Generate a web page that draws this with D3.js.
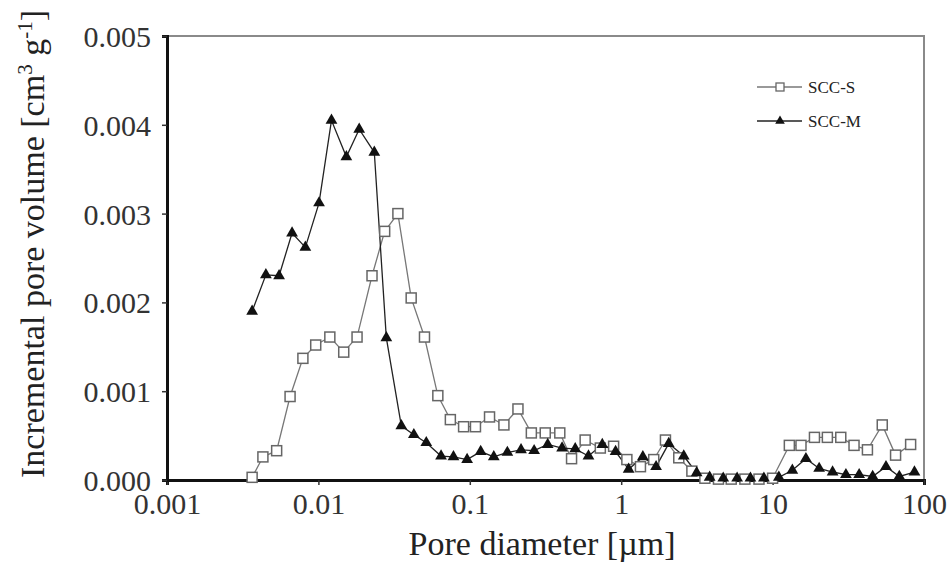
<!DOCTYPE html>
<html>
<head>
<meta charset="utf-8">
<script src="https://cdn.jsdelivr.net/npm/d3@7"></script>
<style>
  body { margin: 0; background: #fff; }
  svg text { font-family: "Liberation Serif", "Times New Roman", serif; fill: #222; }
</style>
</head>
<body>
<div id="chart"></div>
<script>
// Pore diameters (µm) and incremental pore volumes (10^-3 cm3/g)
const sccSDiameter = [0.00365, 0.0043, 0.0053, 0.0065, 0.0079, 0.0096, 0.0119, 0.0147, 0.0180, 0.0226,
  0.0274, 0.0335, 0.0410, 0.0502, 0.0615, 0.0744, 0.091, 0.109, 0.135, 0.168,
  0.208, 0.255, 0.315, 0.393, 0.470, 0.578, 0.728, 0.891, 1.09, 1.34,
  1.64, 1.96, 2.40, 2.93, 3.57, 4.39, 5.33, 6.56, 8.13, 10.0,
  12.9, 15.4, 18.9, 23.0, 28.2, 34.5, 42.3, 53.0, 64.9, 81.6];
const sccSVolume = [0.03, 0.26, 0.33, 0.94, 1.37, 1.52, 1.61, 1.44, 1.61, 2.30,
  2.80, 3.00, 2.05, 1.61, 0.95, 0.68, 0.60, 0.60, 0.71, 0.62,
  0.80, 0.53, 0.53, 0.53, 0.24, 0.45, 0.36, 0.38, 0.23, 0.15,
  0.23, 0.45, 0.25, 0.10, 0.02, 0.01, 0.01, 0.01, 0.01, 0.02,
  0.39, 0.39, 0.48, 0.48, 0.48, 0.39, 0.34, 0.62, 0.28, 0.40];

const sccMDiameter = [0.00365, 0.0045, 0.0055, 0.0067, 0.0082, 0.0101, 0.0122, 0.0153, 0.0186, 0.0234,
  0.0281, 0.0353, 0.0427, 0.0516, 0.0646, 0.078, 0.096, 0.118, 0.144, 0.177,
  0.218, 0.266, 0.327, 0.407, 0.497, 0.608, 0.750, 0.918, 1.12, 1.39,
  1.70, 2.06, 2.59, 3.15, 3.84, 4.72, 5.83, 7.14, 8.76, 11.0,
  13.5, 16.6, 20.3, 24.9, 30.5, 37.3, 45.8, 56.1, 68.7, 86.5];
const sccMVolume = [1.90, 2.31, 2.30, 2.78, 2.62, 3.12, 4.05, 3.64, 3.95, 3.69,
  1.60, 0.61, 0.51, 0.42, 0.27, 0.26, 0.23, 0.32, 0.26, 0.31,
  0.34, 0.33, 0.40, 0.36, 0.35, 0.27, 0.40, 0.32, 0.12, 0.26,
  0.15, 0.41, 0.27, 0.08, 0.03, 0.02, 0.02, 0.02, 0.02, 0.03,
  0.11, 0.24, 0.13, 0.09, 0.06, 0.06, 0.04, 0.15, 0.04, 0.09];

const xTicks = [0.001, 0.01, 0.1, 1, 10, 100];
const xTickLabels = ["0.001", "0.01", "0.1", "1", "10", "100"];
const yTicks = [0, 0.001, 0.002, 0.003, 0.004, 0.005];

const W = 952, H = 567;
const margin = {top: 36, right: 28, bottom: 87, left: 167};
const width = W - margin.left - margin.right,
      height = H - margin.top - margin.bottom;

const svg = d3.select("#chart").append("svg")
  .attr("width", W).attr("height", H);

const g = svg.append("g").attr("transform", `translate(${margin.left},${margin.top})`);

const x = d3.scaleLog().domain([0.001, 100]).range([0, width]);
const y = d3.scaleLinear().domain([0, 0.005]).range([height, 0]);

// frame (top and right thin gray)
g.append("path")
  .attr("d", `M0,0H${width}V${height}`)
  .attr("fill", "none").attr("stroke", "#8a8a8a").attr("stroke-width", 2);

// axes
const xAxis = g.append("g")
  .attr("transform", `translate(0,${height})`)
  .call(d3.axisBottom(x).tickValues(xTicks).tickFormat((d, i) => xTickLabels[i]).tickSize(5).tickPadding(8));
const yAxis = g.append("g")
  .call(d3.axisLeft(y).tickValues(yTicks).tickFormat(d3.format(".3f")).tickSize(5).tickPadding(11));

[xAxis, yAxis].forEach(a => {
  a.attr("font-family", null).attr("font-size", null);
  a.select(".domain").attr("stroke", "#111").attr("stroke-width", 3);
  a.selectAll(".tick line").attr("stroke", "#333").attr("stroke-width", 1.5);
  a.selectAll("text")
    .style("font-family", "'Liberation Serif', serif")
    .style("font-size", "30px")
    .style("fill", "#333");
});
yAxis.selectAll("text").attr("dy", "0.35em");

// series
const sData = sccSDiameter.map((d, i) => ({d, v: sccSVolume[i] / 1000}));
const mData = sccMDiameter.map((d, i) => ({d, v: sccMVolume[i] / 1000}));

const line = d3.line().x(p => x(p.d)).y(p => y(p.v));

g.append("path").datum(sData)
  .attr("d", line).attr("fill", "none").attr("stroke", "#777").attr("stroke-width", 1.3);
g.append("path").datum(mData)
  .attr("d", line).attr("fill", "none").attr("stroke", "#222").attr("stroke-width", 1.3);

const tri = d3.symbol().type(d3.symbolTriangle).size(60);

g.selectAll(".sq").data(sData).join("rect")
  .attr("x", p => x(p.d) - 5).attr("y", p => y(p.v) - 5)
  .attr("width", 10).attr("height", 10)
  .attr("fill", "#fff").attr("stroke", "#666").attr("stroke-width", 1.5);

g.selectAll(".tri").data(mData).join("path")
  .attr("transform", p => `translate(${x(p.d)},${y(p.v)})`)
  .attr("d", tri).attr("fill", "#111");

// legend
const legend = svg.append("g");
const legendItems = ["SCC-S", "SCC-M"];
legendItems.forEach((name, i) => {
  const ly = 87 + i * 34;
  legend.append("line").attr("x1", 757).attr("x2", 802).attr("y1", ly).attr("y2", ly)
    .attr("stroke", i ? "#222" : "#777").attr("stroke-width", 1.3);
  if (i === 0) {
    legend.append("rect").attr("x", 776).attr("y", ly - 4).attr("width", 8).attr("height", 8)
      .attr("fill", "#fff").attr("stroke", "#666").attr("stroke-width", 1.3);
  } else {
    legend.append("path").attr("transform", `translate(780,${ly})`)
      .attr("d", d3.symbol().type(d3.symbolTriangle).size(40)).attr("fill", "#111");
  }
  legend.append("text").attr("x", 808).attr("y", ly + 6)
    .attr("font-size", 17).text(name);
});

// axis titles
svg.append("text")
  .attr("x", margin.left + x(0.3)).attr("y", 555)
  .attr("text-anchor", "middle").attr("font-size", 34)
  .text("Pore diameter [\u00b5m]");

const yTitle = svg.append("text")
  .attr("transform", `translate(44,${margin.top + height / 2 - 14}) rotate(-90)`)
  .attr("text-anchor", "middle").attr("font-size", 34);
yTitle.append("tspan").text("Incremental pore volume [cm");
yTitle.append("tspan").attr("font-size", 21).attr("dy", -12).text("3");
yTitle.append("tspan").attr("dy", 12).text(" g");
yTitle.append("tspan").attr("font-size", 21).attr("dy", -12).text("-1");
yTitle.append("tspan").attr("dy", 12).text("]");
</script>
</body>
</html>
